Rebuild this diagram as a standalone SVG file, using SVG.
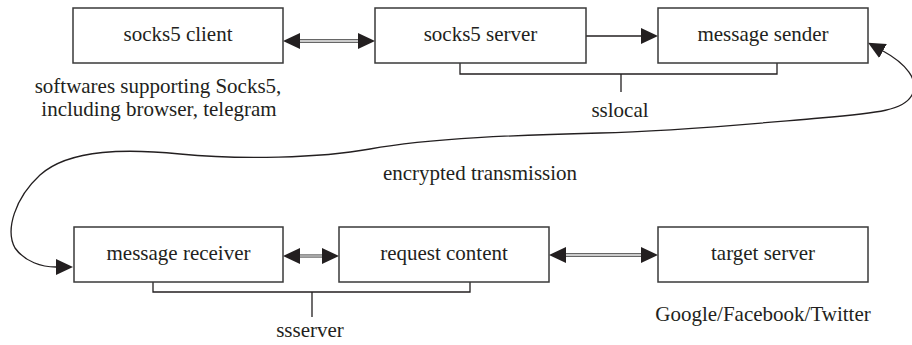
<svg xmlns="http://www.w3.org/2000/svg" width="912" height="345" viewBox="0 0 912 345">
<style>
.box{fill:#fff;stroke:#3a3a3a;stroke-width:1.5}
text{font-family:"Liberation Serif","Times New Roman",serif;font-size:21px;fill:#231f20;text-anchor:middle}
.ln{fill:none;stroke:#231f20;stroke-width:1.3}
.dbl{fill:none;stroke:#333;stroke-width:3.6}
.dbli{fill:none;stroke:#fff;stroke-width:1.4}
.gry{fill:none;stroke:#777;stroke-width:3.6}
.gryi{fill:none;stroke:#bbb;stroke-width:1.4}
</style>
<defs>
<marker id="hb" viewBox="0 0 17 16" refX="0" refY="8" markerWidth="17" markerHeight="16" markerUnits="userSpaceOnUse" orient="auto-start-reverse">
<path d="M0,0 L17,8 L0,16 z" fill="#231f20"/>
</marker>
</defs>
<g id="connectors">
<path class="dbl" d="M300,41 H358" marker-start="url(#hb)" marker-end="url(#hb)"/>
<path class="dbli" d="M300,41 H358"/>
<path class="ln" d="M586,36 H641" marker-end="url(#hb)"/>
<path class="gry" d="M300,256 H322" marker-start="url(#hb)" marker-end="url(#hb)"/>
<path class="gryi" d="M300,256 H322"/>
<path class="dbl" d="M566,255 H641" marker-start="url(#hb)" marker-end="url(#hb)"/>
<path class="dbli" d="M566,255 H641"/>
<path class="ln" d="M883,51 C905,63 920,80 912,95 C904,110 880,113 820,118 C760,123 680,131 600,133 C520,135 430,138 370,149 C320,158 240,160 180,154 C130,149 70,148 40,175 C15,198 5,230 15,248 C25,262 42,267 56,267" marker-start="url(#hb)" marker-end="url(#hb)"/>
<path class="ln" d="M460,63 V74 H777 V63 M621,74 V92"/>
<path class="ln" d="M153,282 V292 H470 V282 M312,292 V317"/>
</g>
<g id="socks5-client"><rect class="box" x="73" y="8" width="210" height="55"/><text x="178" y="41">socks5 client</text></g>
<g id="socks5-server"><rect class="box" x="375" y="8" width="211" height="55"/><text x="480.5" y="41">socks5 server</text></g>
<g id="message-sender"><rect class="box" x="658" y="8" width="210" height="55"/><text x="763" y="41">message sender</text></g>
<g id="message-receiver"><rect class="box" x="74" y="227" width="209" height="55"/><text x="178.5" y="260">message receiver</text></g>
<g id="request-content"><rect class="box" x="339" y="227" width="210" height="55"/><text x="444" y="260">request content</text></g>
<g id="target-server"><rect class="box" x="658" y="227" width="210" height="55"/><text x="763" y="260">target server</text></g>
<g id="labels">
<text x="158" y="93">softwares supporting Socks5,</text>
<text x="159" y="116">including browser, telegram</text>
<text x="620" y="117">sslocal</text>
<text x="480" y="180">encrypted transmission</text>
<text x="310" y="337">ssserver</text>
<text x="763" y="321">Google/Facebook/Twitter</text>
</g>
</svg>
